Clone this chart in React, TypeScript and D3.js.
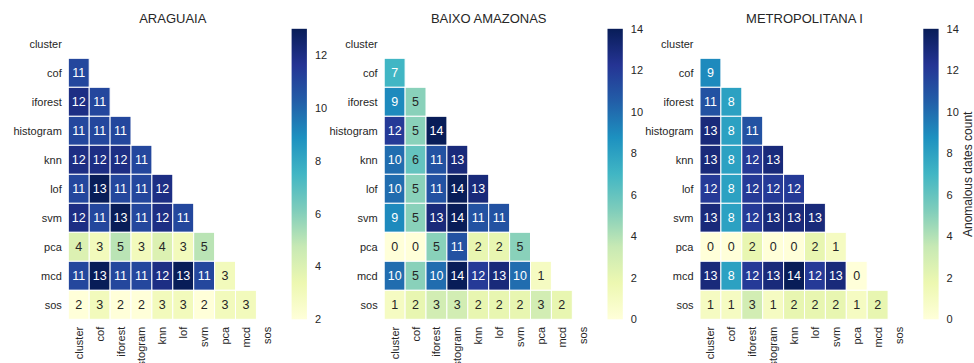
import React from "react";
import * as d3 from "d3";

// Detector names, shared by rows and columns of every matrix
const methods = ["cluster", "cof", "iforest", "histogram", "knn", "lof", "svm", "pca", "mcd", "sos"];

// Lower-triangle counts: row i lists the pairs (methods[i], methods[j]) for j < i
const araguaiaCounts: number[][] = [
  [],
  [11],
  [12, 11],
  [11, 11, 11],
  [12, 12, 12, 11],
  [11, 13, 11, 11, 12],
  [12, 11, 13, 11, 12, 11],
  [4, 3, 5, 3, 4, 3, 5],
  [11, 13, 11, 11, 12, 13, 11, 3],
  [2, 3, 2, 2, 3, 3, 2, 3, 3],
];

const baixoAmazonasCounts: number[][] = [
  [],
  [7],
  [9, 5],
  [12, 5, 14],
  [10, 6, 11, 13],
  [10, 5, 11, 14, 13],
  [9, 5, 13, 14, 11, 11],
  [0, 0, 5, 11, 2, 2, 5],
  [10, 5, 10, 14, 12, 13, 10, 1],
  [1, 2, 3, 3, 2, 2, 2, 3, 2],
];

const metropolitanaCounts: number[][] = [
  [],
  [9],
  [11, 8],
  [13, 8, 11],
  [13, 8, 12, 13],
  [12, 8, 12, 12, 12],
  [13, 8, 12, 13, 13, 13],
  [0, 0, 2, 0, 0, 2, 1],
  [13, 8, 12, 13, 14, 12, 13, 0],
  [1, 1, 3, 1, 2, 2, 2, 1, 2],
];

const regionTitles = ["ARAGUAIA", "BAIXO AMAZONAS", "METROPOLITANA I"];
const araguaiaTicks = [2, 4, 6, 8, 10, 12];
const wideTicks = [0, 2, 4, 6, 8, 10, 12, 14];
const colorbarLabel = "Anomalous dates count";

const panels = [
  { title: regionTitles[0], counts: araguaiaCounts, ticks: araguaiaTicks },
  { title: regionTitles[1], counts: baixoAmazonasCounts, ticks: wideTicks },
  { title: regionTitles[2], counts: metropolitanaCounts, ticks: wideTicks },
];

const W = 974;
const H = 363;
const FONT = "'Liberation Sans', Arial, Helvetica, sans-serif";
const INK = "#262626";

const panelX = [68.3, 384.2, 700];
const heatTop = 29.3;
const heatW = 209;
const heatH = 290;
const cbarGap = 223.3;
const cbarW = 15.3;

const palette = d3.schemeYlGnBu[9] as readonly string[];
const ramp = d3.piecewise(d3.interpolateRgb, palette as string[]);

function luminance(color: string): number {
  const c = d3.rgb(color);
  const f = (v: number) => {
    const s = v / 255;
    return s <= 0.03928 ? s / 12.92 : Math.pow((s + 0.055) / 1.055, 2.4);
  };
  return 0.2126 * f(c.r) + 0.7152 * f(c.g) + 0.0722 * f(c.b);
}

function Panel({ idx }: { idx: number }) {
  const p = panels[idx];
  const x0 = panelX[idx];
  const flat = p.counts.flat();
  const vmin = d3.min(flat) as number;
  const vmax = d3.max(flat) as number;
  const norm = d3.scaleLinear().domain([vmin, vmax]).range([0, 1]).clamp(true);
  const color = (v: number) => ramp(norm(v));

  const x = d3.scaleBand<string>().domain(methods).range([x0, x0 + heatW]);
  const y = d3.scaleBand<string>().domain(methods).range([heatTop, heatTop + heatH]);

  const cbx = x0 + cbarGap;
  const cy = d3.scaleLinear().domain([vmin, vmax]).range([heatTop + heatH, heatTop - 0.5]);
  const gradId = `cbar-grad-${idx}`;

  const cells: { r: number; c: number; v: number }[] = [];
  p.counts.forEach((row, r) => row.forEach((v, c) => cells.push({ r, c, v })));

  return (
    <g>
      <defs>
        <linearGradient id={gradId} x1="0" y1="1" x2="0" y2="0">
          {palette.map((col, i) => (
            <stop key={i} offset={`${(i / (palette.length - 1)) * 100}%`} stopColor={col} />
          ))}
        </linearGradient>
      </defs>
      <text
        x={x0 + heatW / 2}
        y={22.5}
        textAnchor="middle"
        fontSize={13}
        fill={INK}
      >
        {p.title}
      </text>
      {cells.map(({ r, c, v }) => {
        const fill = color(v);
        const tc = luminance(fill) > 0.408 ? INK : "#ffffff";
        const cx = (x(methods[c]) as number) + x.bandwidth() / 2;
        const cyy = (y(methods[r]) as number) + y.bandwidth() / 2;
        return (
          <g key={`${r}-${c}`}>
            <rect
              x={x(methods[c])}
              y={y(methods[r])}
              width={x.bandwidth()}
              height={y.bandwidth()}
              fill={fill}
              stroke="#ffffff"
              strokeWidth={1}
            />
            <text
              x={cx}
              y={cyy}
              textAnchor="middle"
              dominantBaseline="central"
              fontSize={12.5}
              fill={tc}
            >
              {v}
            </text>
          </g>
        );
      })}
      {methods.map((m) => (
        <text
          key={`y-${m}`}
          x={x0 - 6.5}
          y={(y(m) as number) + y.bandwidth() / 2}
          textAnchor="end"
          dominantBaseline="central"
          fontSize={11}
          fill={INK}
        >
          {m}
        </text>
      ))}
      {methods.map((m) => {
        const tx = (x(m) as number) + x.bandwidth() / 2;
        const ty = heatTop + heatH + 7.5;
        return (
          <text
            key={`x-${m}`}
            transform={`translate(${tx},${ty}) rotate(-90)`}
            textAnchor="end"
            dominantBaseline="central"
            fontSize={11}
            fill={INK}
          >
            {m}
          </text>
        );
      })}
      <rect
        x={cbx}
        y={cy(vmax)}
        width={cbarW}
        height={cy(vmin) - cy(vmax)}
        fill={`url(#${gradId})`}
      />
      {p.ticks.map((t) => (
        <text
          key={`t-${t}`}
          x={cbx + cbarW + 8}
          y={cy(t)}
          dominantBaseline="central"
          fontSize={11}
          fill={INK}
        >
          {t}
        </text>
      ))}
      {idx === panels.length - 1 && (
        <text
          transform={`translate(${cbx + cbarW + 29},${heatTop + heatH / 2}) rotate(-90)`}
          textAnchor="middle"
          dominantBaseline="central"
          fontSize={12}
          fill={INK}
        >
          {colorbarLabel}
        </text>
      )}
    </g>
  );
}

export default function App() {
  return (
    <svg
      width={W}
      height={H}
      style={{ position: "absolute", left: 0, top: 0, background: "#ffffff", fontFamily: FONT }}
    >
      <rect x={0} y={0} width={W} height={H} fill="#ffffff" />
      {panels.map((_, i) => (
        <Panel key={i} idx={i} />
      ))}
    </svg>
  );
}
